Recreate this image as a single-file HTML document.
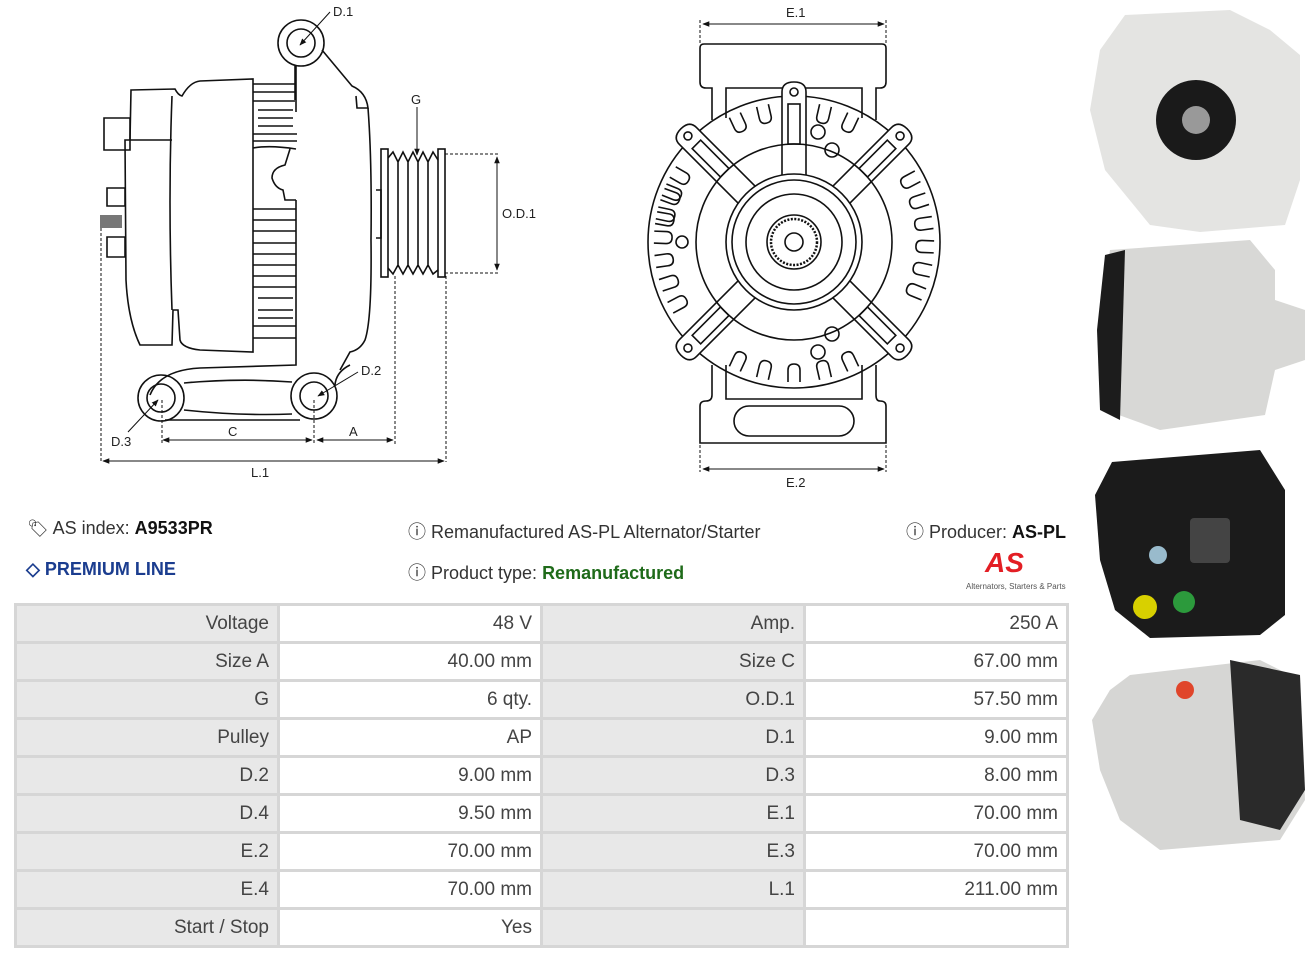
<!DOCTYPE html>
<html><head><meta charset="utf-8"><style>
body{margin:0;width:1316px;height:961px;background:#fff;font-family:"Liberation Sans",sans-serif;position:relative;overflow:hidden;color:#333}
.t{position:absolute;font-size:18px;color:#333;white-space:nowrap}
b{color:#111}
table{position:absolute;left:14px;top:603px;border-collapse:separate;border-spacing:3px;background:#d6d6d6}
td{height:35px;font-size:19px;text-align:right;padding:0 8px;color:#444;box-sizing:border-box}
td.g{background:#e8e8e8;width:260px}
td.w{background:#fff;width:260px}
</style></head><body>
<svg width="1316" height="961" style="position:absolute;left:0;top:0" fill="none" stroke="#111" stroke-width="1.6">
<defs><marker id="a" viewBox="0 0 10 10" refX="9" refY="5" markerWidth="7" markerHeight="7" orient="auto-start-reverse"><path d="M0,1L10,5L0,9z" fill="#111" stroke="none"/></marker></defs>
<circle cx="301" cy="43" r="23"/><circle cx="301" cy="43" r="14"/>
<line x1="330" y1="12" x2="300" y2="45" stroke-width="1" marker-end="url(#a)"/>
<path d="M295,66 V100 M322,50 L352,86 Q366,92 368,108 L357,108 L356,96"/>
<path d="M296,66 L296,112 M368,108 Q372,160 371,240 Q372,320 365,340 Q360,350 350,352 L340,370"/>
<path d="M131,90 L175,89 Q178,95 182,96 Q190,82 200,81 L253,79 L253,352 L200,350 Q182,348 180,340 L178,310 L173,310 L172,345 L140,345 Q128,320 126,280 L125,140 L130,140Z M130,140 L172,140"/>
<path d="M172,96 Q168,200 172,310"/>
<path d="M253,84 H295 M253,92 H295 M253,101 H295 M258,110 H293 M258,118 H293 M258,126 H293 M253,134 H297 M253,141 H297"/>
<path d="M253,148 Q270,145 296,149 M290,149 L285,165 Q272,168 272,178 Q275,188 283,190 L285,200 H296"/>
<path d="M253,209 H296 M253,220 H296 M253,231 H296 M253,243 H296 M253,254 H296 M253,265 H296 M253,276 H296 M253,287 H296 M258,298 H293 M258,310 H293 M258,318 H293 M253,326 H296 M253,338 H296"/>
<path d="M296,200 V365 L200,368 Q160,370 150,395"/>
<path d="M104,118 H130 V150 H104Z M107,188 H125 V206 H107Z M107,237 H125 V257 H107Z"/>
<rect x="100" y="215" width="22" height="13" fill="#777" stroke="none"/>
<circle cx="161" cy="398" r="23"/><circle cx="161" cy="398" r="14"/>
<circle cx="314" cy="396" r="23"/><circle cx="314" cy="396" r="14"/>
<path d="M184,383 Q240,378 292,382 M184,410 Q240,416 292,414 M165,420 H300"/>
<path d="M335,385 Q336,372 350,365"/>
<line x1="128" y1="432" x2="158" y2="400" stroke-width="1" marker-end="url(#a)"/>
<line x1="358" y1="372" x2="318" y2="396" stroke-width="1" marker-end="url(#a)"/>
<rect x="381" y="149" width="7" height="128"/>
<rect x="438" y="149" width="7" height="128"/>
<path d="M388,158 L393,152 L398,162 L403,152 L408,162 L413,152 L418,162 L423,152 L428,162 L433,152 L438,160 M388,268 L393,274 L398,265 L403,274 L408,265 L413,274 L418,265 L423,274 L428,265 L433,274 L438,270 M398,162 V265 M408,162 V265 M418,162 V265 M428,162 V265 M376,190 H381 V238 H376"/>
<line x1="417" y1="107" x2="417" y2="155" stroke-width="1" marker-end="url(#a)"/>
<g stroke-width="1" stroke-dasharray="3,2"><path d="M445,154 H500 M445,273 H500 M101,228 V462 M162,400 V445 M314,400 V445 M395,276 V445 M446,276 V462"/></g>
<g stroke-width="1"><line x1="497" y1="157" x2="497" y2="270" marker-start="url(#a)" marker-end="url(#a)"/>
<line x1="163" y1="440" x2="312" y2="440" marker-start="url(#a)" marker-end="url(#a)"/>
<line x1="317" y1="440" x2="393" y2="440" marker-start="url(#a)" marker-end="url(#a)"/>
<line x1="103" y1="461" x2="444" y2="461" marker-start="url(#a)" marker-end="url(#a)"/>
<line x1="703" y1="24" x2="884" y2="24" marker-start="url(#a)" marker-end="url(#a)"/>
<line x1="703" y1="469" x2="884" y2="469" marker-start="url(#a)" marker-end="url(#a)"/></g>
<g stroke-width="1" stroke-dasharray="3,2"><path d="M700,20 V44 M886,20 V44 M700,445 V472 M886,445 V472"/></g>
<g font-family="Liberation Sans" font-size="13" fill="#222" stroke="none">
<text x="333" y="16">D.1</text><text x="411" y="104">G</text><text x="502" y="218">O.D.1</text><text x="361" y="375">D.2</text>
<text x="111" y="446">D.3</text><text x="228" y="436">C</text><text x="349" y="436">A</text><text x="251" y="477">L.1</text>
<text x="786" y="17">E.1</text><text x="786" y="487">E.2</text></g>
<path d="M700,48 Q700,44 704,44 H882 Q886,44 886,48 V82 Q886,88 880,88 H876 V120 M700,48 V82 Q700,88 706,88 H712 V120"/>
<path d="M726,118 V88 H862 V118"/>
<path d="M712,365 V395 Q712,401 706,401 Q700,401 700,406 V443 H886 V406 Q886,401 880,401 Q876,401 876,395 V365 M726,365 V399 H862 V365"/>
<rect x="734" y="406" width="120" height="30" rx="15"/>
<circle cx="794" cy="242" r="146"/>
<g id="n"><path d="M-6,-140 V-128 Q-6,-122 0,-122 Q6,-122 6,-128 V-140"/></g>
<g transform="translate(794,242)">
<use href="#n" transform="rotate(-80)"/><use href="#n" transform="rotate(-70)"/><use href="#n" transform="rotate(-60)"/><use href="#n" transform="rotate(-25)"/><use href="#n" transform="rotate(-13)"/><use href="#n" transform="rotate(0)"/><use href="#n" transform="rotate(13)"/><use href="#n" transform="rotate(25)"/>
<use href="#n" transform="rotate(62)"/><use href="#n" transform="rotate(72)"/><use href="#n" transform="rotate(82)"/><use href="#n" transform="rotate(92)"/><use href="#n" transform="rotate(102)"/><use href="#n" transform="rotate(112)"/>
<use href="#n" transform="rotate(155)"/><use href="#n" transform="rotate(167)"/><use href="#n" transform="rotate(180)"/><use href="#n" transform="rotate(193)"/><use href="#n" transform="rotate(205)"/>
<use href="#n" transform="rotate(242)"/><use href="#n" transform="rotate(252)"/><use href="#n" transform="rotate(262)"/><use href="#n" transform="rotate(272)"/><use href="#n" transform="rotate(282)"/><use href="#n" transform="rotate(292)"/>
<g id="arm"><path d="M-12,-50 L-12,-150 Q-12,-160 0,-160 Q12,-160 12,-150 L12,-50" fill="#fff"/><rect x="-6" y="-138" width="12" height="40"/><circle cx="0" cy="-150" r="4"/></g>
<use href="#arm" transform="rotate(45)"/><use href="#arm" transform="rotate(135)"/><use href="#arm" transform="rotate(225)"/><use href="#arm" transform="rotate(-45)"/>
<circle r="98" fill="none"/>
<circle r="68" fill="#fff"/><circle r="62"/><circle r="48"/><circle r="27"/><circle r="23" stroke-dasharray="2,1.5" stroke-width="2.5"/><circle r="9"/>
<circle cx="-112" cy="0" r="6"/><circle cx="24" cy="-110" r="7"/><circle cx="38" cy="-92" r="7"/><circle cx="24" cy="110" r="7"/><circle cx="38" cy="92" r="7"/>
</g>
<g stroke="none">
<path d="M1125,15 L1230,10 L1270,30 L1300,55 L1300,180 L1285,225 L1200,232 L1150,225 L1105,170 L1090,110 L1100,50Z" fill="#e4e4e2"/>
<circle cx="1196" cy="120" r="40" fill="#1a1a1a"/><circle cx="1196" cy="120" r="14" fill="#999"/>
<path d="M1110,250 L1250,240 L1275,270 L1275,300 L1305,310 L1305,360 L1275,370 L1265,415 L1160,430 L1105,410 L1098,330Z" fill="#d8d8d6"/>
<path d="M1105,255 L1125,250 L1120,420 L1100,410 L1097,330Z" fill="#1c1c1c"/>
<path d="M1112,462 L1260,450 L1285,490 L1285,615 L1260,635 L1150,638 L1115,610 L1100,560 L1095,495Z" fill="#1b1b1b"/>
<rect x="1190" y="518" width="40" height="45" rx="4" fill="#444"/><circle cx="1145" cy="607" r="12" fill="#d8d000"/><circle cx="1184" cy="602" r="11" fill="#2c9a3c"/><circle cx="1158" cy="555" r="9" fill="#9bc"/>
<path d="M1130,675 L1260,660 L1300,680 L1305,800 L1280,840 L1160,850 L1120,820 L1100,770 L1092,720 L1110,690Z" fill="#d6d6d4"/>
<path d="M1230,660 L1300,675 L1305,790 L1280,830 L1240,820Z" fill="#2a2a2a"/><circle cx="1185" cy="690" r="9" fill="#e0452a"/>
</g>
</svg>
<div class="t" style="left:27px;top:518px"><span style="font-size:17px">&#x1F3F7;</span> AS index: <b>A9533PR</b></div>
<div class="t" style="left:26px;top:559px;color:#1b3d8f;font-weight:bold">&#9671; PREMIUM LINE</div>
<div class="t" style="left:408px;top:518px">&#x24D8; Remanufactured AS-PL Alternator/Starter</div>
<div class="t" style="left:408px;top:559px">&#x24D8; Product type: <b style="color:#1f6b1a">Remanufactured</b></div>
<div class="t" style="left:906px;top:518px">&#x24D8; Producer: <b>AS-PL</b></div>
<div class="t" style="left:985px;top:547px;font-size:28px;font-weight:bold;font-style:italic;color:#e31e24">AS</div>
<div class="t" style="left:966px;top:582px;font-size:8px;color:#555">Alternators, Starters &amp; Parts</div>
<table>
<tr><td class="g">Voltage</td><td class="w">48 V</td><td class="g">Amp.</td><td class="w">250 A</td></tr>
<tr><td class="g">Size A</td><td class="w">40.00 mm</td><td class="g">Size C</td><td class="w">67.00 mm</td></tr>
<tr><td class="g">G</td><td class="w">6 qty.</td><td class="g">O.D.1</td><td class="w">57.50 mm</td></tr>
<tr><td class="g">Pulley</td><td class="w">AP</td><td class="g">D.1</td><td class="w">9.00 mm</td></tr>
<tr><td class="g">D.2</td><td class="w">9.00 mm</td><td class="g">D.3</td><td class="w">8.00 mm</td></tr>
<tr><td class="g">D.4</td><td class="w">9.50 mm</td><td class="g">E.1</td><td class="w">70.00 mm</td></tr>
<tr><td class="g">E.2</td><td class="w">70.00 mm</td><td class="g">E.3</td><td class="w">70.00 mm</td></tr>
<tr><td class="g">E.4</td><td class="w">70.00 mm</td><td class="g">L.1</td><td class="w">211.00 mm</td></tr>
<tr><td class="g">Start / Stop</td><td class="w">Yes</td><td class="g"></td><td class="w"></td></tr>
</table>
</body></html>
